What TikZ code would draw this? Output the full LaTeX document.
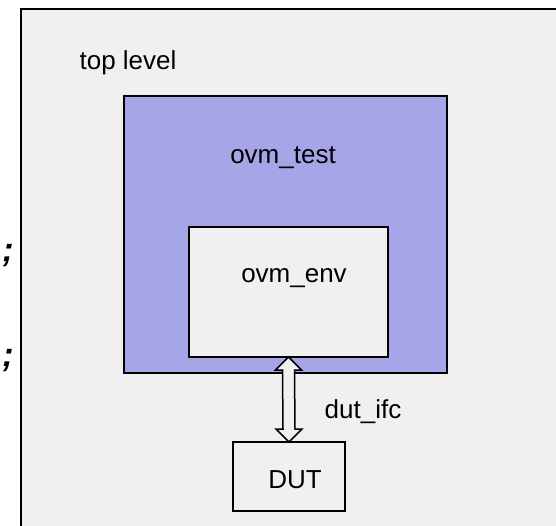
\documentclass[tikz,border=0pt]{standalone}
\usepackage{fontspec}
\setmainfont{Liberation Sans}
\usepackage{tikz}
\usetikzlibrary{positioning,calc}
\definecolor{bggray}{HTML}{F0F0F0}
\definecolor{ovmblue}{HTML}{A5A5E8}

\begin{document}
\begin{tikzpicture}[x=1pt, y=-1pt,
        blockbox/.style = {draw, line width=2pt, inner sep=0pt, outer sep=0pt, anchor=north west},
        lbl/.style = {font=\fontsize{26}{31}\selectfont, inner sep=0pt},
        semi/.style = {font=\fontsize{34}{40}\selectfont\bfseries\itshape, inner sep=0pt}]
    \useasboundingbox (0,0) rectangle (556,525);

    \node[blockbox, fill=bggray, minimum width=560pt, minimum height=540pt] (top) at (21, 9) {};
    \node[blockbox, fill=ovmblue, minimum width=323pt, minimum height=277pt] (test) at (124, 96) {};
    \node[blockbox, fill=bggray, minimum width=199pt, minimum height=130pt] (env) at (189, 227) {};
    \node[blockbox, fill=bggray, minimum width=112pt, minimum height=69pt] (dut) at (233, 442) {};

    \node[lbl] (toplbl) at (128, 63) {top level};
    \node[lbl] (testlbl) at (283, 158) {ovm\_test};
    \node[lbl] (envlbl) at (294, 278) {ovm\_env};
    \node[lbl] (dutlbl) at (295, 480) {DUT};
    \node[lbl] (ifclbl) at (363, 412) {dut\_ifc};

    \node[semi] (semia) at (8, 256) {;};
    \node[semi] (semib) at (8, 361) {;};

    \draw[line width=1.5pt, fill=bggray] (env.south) -- ++(13, 13) -- ++(-7, 0)
        -- ($(dut.north) + (6, -13)$) -- ++(7, 0) -- (dut.north) -- ++(-13, -13) -- ++(7, 0)
        -- ($(env.south) + (-6, 13)$) -- ++(-7, 0) -- cycle;
\end{tikzpicture}
\end{document}
